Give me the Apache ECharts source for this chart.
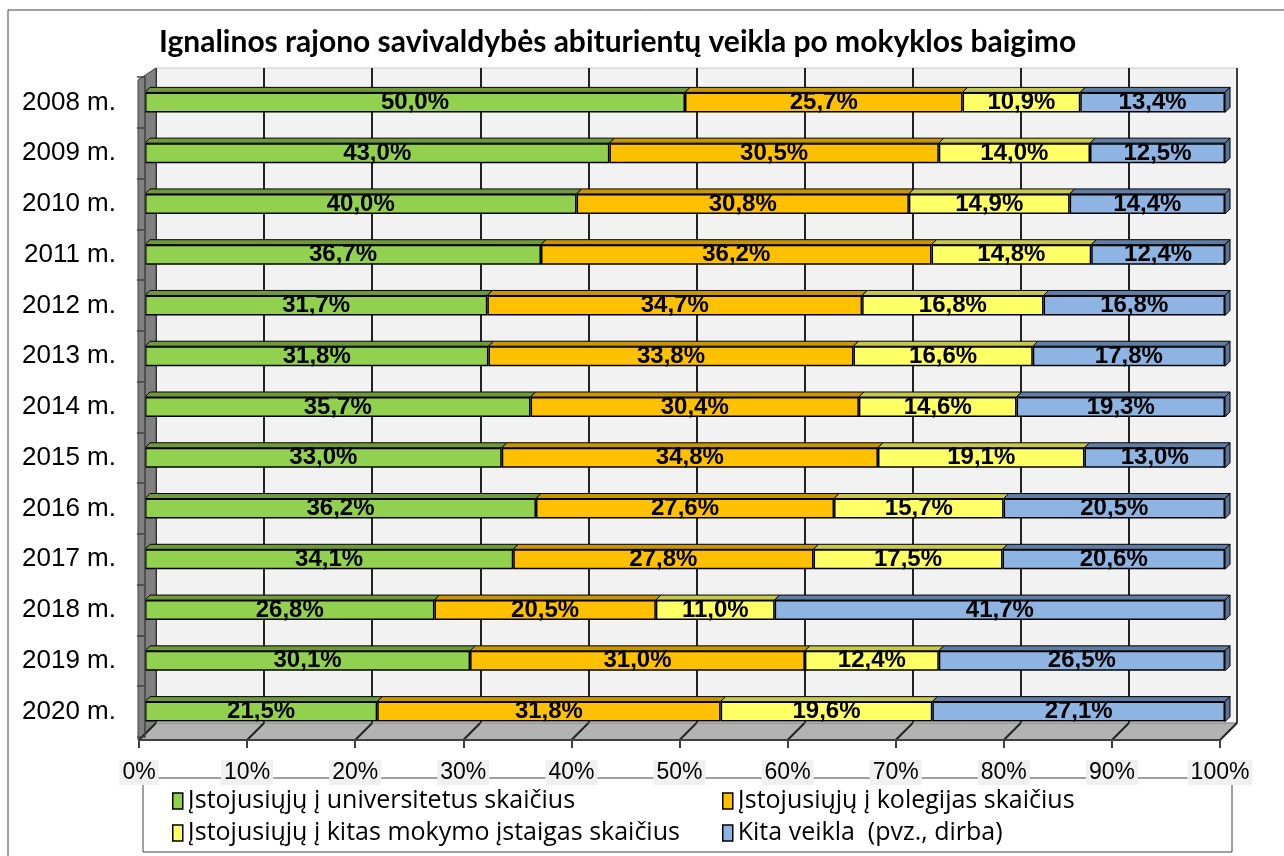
<!DOCTYPE html>
<html><head><meta charset="utf-8">
<script src="https://cdn.jsdelivr.net/npm/echarts@6/dist/echarts.min.js"></script>
<style>html,body{margin:0;padding:0;background:#fff}#c{width:1284px;height:856px}</style>
</head><body><div id="c"></div>
<script>
const years = ['2008 m.','2009 m.','2010 m.','2011 m.','2012 m.','2013 m.','2014 m.','2015 m.','2016 m.','2017 m.','2018 m.','2019 m.','2020 m.'];
const university    = [50.0,43.0,40.0,36.7,31.7,31.8,35.7,33.0,36.2,34.1,26.8,30.1,21.5];
const colleges      = [25.7,30.5,30.8,36.2,34.7,33.8,30.4,34.8,27.6,27.8,20.5,31.0,31.8];
const otherSchools  = [10.9,14.0,14.9,14.8,16.8,16.6,14.6,19.1,15.7,17.5,11.0,12.4,19.6];
const otherActivity = [13.4,12.5,14.4,12.4,16.8,17.8,19.3,13.0,20.5,20.6,41.7,26.5,27.1];
const xTicks = [0,10,20,30,40,50,60,70,80,90,100];
const seriesNames = ['Įstojusiųjų į universitetus skaičius','Įstojusiųjų į kolegijas skaičius','Įstojusiųjų į kitas mokymo įstaigas skaičius','Kita veikla  (pvz., dirba)'];
const title = 'Ignalinos rajono savivaldybės abiturientų veikla po mokyklos baigimo';

const segs = [university, colleges, otherSchools, otherActivity];
const colors = ['#92d050','#ffc000','#ffff66','#8db4e2'];
const topColors = ['#6e9a3a','#c89600','#c8c84c','#5e7ea6'];
const capColor = '#587496';
const sums = years.map((_, i) => segs.reduce((s, a) => s + a[i], 0));
const BAR_H = 20, DX = 5, DY = 5;

const chart = echarts.init(document.getElementById('c'), null, {renderer:'canvas'});

const barSeries = segs.map((arr, k) => ({
  type: 'bar', name: seriesNames[k], stack: 'all',
  xAxisIndex: 1, yAxisIndex: 1, barWidth: BAR_H, z: 3,
  itemStyle: {color: colors[k], borderColor: '#000', borderWidth: 1.5},
  label: {
    show: true, position: 'inside', color: '#000',
    fontFamily: 'Liberation Sans', fontWeight: 'bold', fontSize: 24,
    formatter: p => arr[p.dataIndex].toFixed(1).replace('.', ',') + '%'
  },
  emphasis: {disabled: true},
  data: arr.map((v, i) => v / sums[i] * 100)
}));

const topFaces = {
  type: 'custom', xAxisIndex: 1, yAxisIndex: 1, z: 2, silent: true,
  encode: {x: 0, y: 1},
  data: years.map((_, i) => [0, i]),
  renderItem(params, api) {
    const i = params.dataIndex;
    const c = api.coord([0, i]);
    const yTop = c[1] - BAR_H / 2;
    let acc = 0;
    const children = [];
    segs.forEach((arr, k) => {
      const x0 = api.coord([acc / sums[i] * 100, i])[0];
      acc += arr[i];
      const x1 = api.coord([acc / sums[i] * 100, i])[0];
      children.push({type: 'polygon', shape: {points: [[x0, yTop], [x0 + DX, yTop - DY], [x1 + DX, yTop - DY], [x1, yTop]]},
        style: {fill: topColors[k], stroke: '#000', lineWidth: 1}});
      if (k === segs.length - 1) {
        children.push({type: 'polygon', shape: {points: [[x1, yTop], [x1 + DX, yTop - DY], [x1 + DX, yTop - DY + BAR_H], [x1, yTop + BAR_H]]},
          style: {fill: capColor, stroke: '#000', lineWidth: 1}});
      }
    });
    return {type: 'group', children};
  }
};

const floorLines = {
  type: 'custom', xAxisIndex: 2, yAxisIndex: 2, z: 3, silent: true,
  encode: {x: 0, y: 1},
  data: xTicks.map(t => [t, 0]),
  renderItem(params, api) {
    const p = api.coord([api.value(0), 0]);
    return {type: 'line', shape: {x1: p[0], y1: p[1], x2: p[0] + 17, y2: p[1] - 17},
      style: {stroke: '#222', lineWidth: 2}};
  }
};

function legendAt(left, names) {
  return {left: left, top: 788, orient: 'vertical', padding: 0, data: names,
    itemWidth: 10, itemHeight: 16, itemGap: 6, icon: 'rect', selectedMode: false,
    itemStyle: {borderColor: '#000', borderWidth: 1.5},
    textStyle: {fontFamily: 'Open Sans', fontSize: 25, color: '#000', lineHeight: 26}};
}

chart.setOption({
  animation: false,
  backgroundColor: '#fff',
  title: {text: title, left: 154, top: 22,
    textStyle: {fontFamily: 'Lato', fontWeight: 'bold', fontSize: 30, color: '#000'}},
  legend: [
    legendAt(172, [seriesNames[0], seriesNames[2]]),
    legendAt(722, [seriesNames[1], seriesNames[3]])
  ],
  graphic: [
    {type: 'rect', z: -10, shape: {x: 8, y: 10, width: 1300, height: 870}, style: {fill: '#fff', stroke: '#404040', lineWidth: 1}},
    {type: 'polygon', z: 1, shape: {points: [[138, 80], [156, 68], [156, 723], [138, 740]]}, style: {fill: '#808080', stroke: '#404040', lineWidth: 1}},
    {type: 'polygon', z: 1, shape: {points: [[138, 740], [156, 723], [1237, 723], [1220, 740]]}, style: {fill: '#b3b3b3', stroke: '#808080', lineWidth: 1}},
    {type: 'line', z: 1, shape: {x1: 1237, y1: 68, x2: 1237, y2: 723}, style: {stroke: '#404040', lineWidth: 2}},
    {type: 'rect', z: 1, shape: {x: 143, y: 778, width: 1089, height: 74}, style: {fill: '#fff', stroke: '#404040', lineWidth: 1}}
  ],
  grid: [
    {left: 156, right: 47, top: 68, bottom: 133, show: true, backgroundColor: '#f2f2f2', borderColor: '#c8c8c8', borderWidth: 1, z: 0},
    {left: 145, right: 59, top: 77, bottom: 119},
    {left: 139, right: 64, top: 723, bottom: 116}
  ],
  xAxis: [
    {gridIndex: 0, type: 'value', min: 0, max: 100, interval: 10, axisLine: {show: false}, axisTick: {show: false}, axisLabel: {show: false},
      splitLine: {show: true, lineStyle: {color: '#222', width: 2}}},
    {gridIndex: 1, type: 'value', min: 0, max: 100, interval: 10, show: false},
    {gridIndex: 2, type: 'value', min: 0, max: 100, interval: 10, z: 6,
      axisLine: {show: true, lineStyle: {color: '#404040', width: 2}},
      axisTick: {show: true, length: 8, lineStyle: {color: '#404040', width: 2}},
      splitLine: {show: false},
      axisLabel: {show: true, margin: 20, fontFamily: 'Liberation Sans', fontSize: 23, color: '#000',
        backgroundColor: '#f0f0f0', padding: [1, 3, 1, 3], formatter: v => v + '%'}}
  ],
  yAxis: [
    {gridIndex: 0, type: 'category', data: years, inverse: true, show: false},
    {gridIndex: 1, type: 'category', data: years, inverse: true, offset: 7, z: 4,
      axisLine: {show: true, lineStyle: {color: '#404040', width: 1.5}},
      axisTick: {show: true, length: 8, lineStyle: {color: '#404040', width: 1.5}},
      axisLabel: {margin: 22, fontFamily: 'Liberation Sans', fontSize: 26, color: '#000'}},
    {gridIndex: 2, type: 'value', min: 0, max: 1, show: false}
  ],
  series: [topFaces, ...barSeries, floorLines]
});
</script>
</body></html>
